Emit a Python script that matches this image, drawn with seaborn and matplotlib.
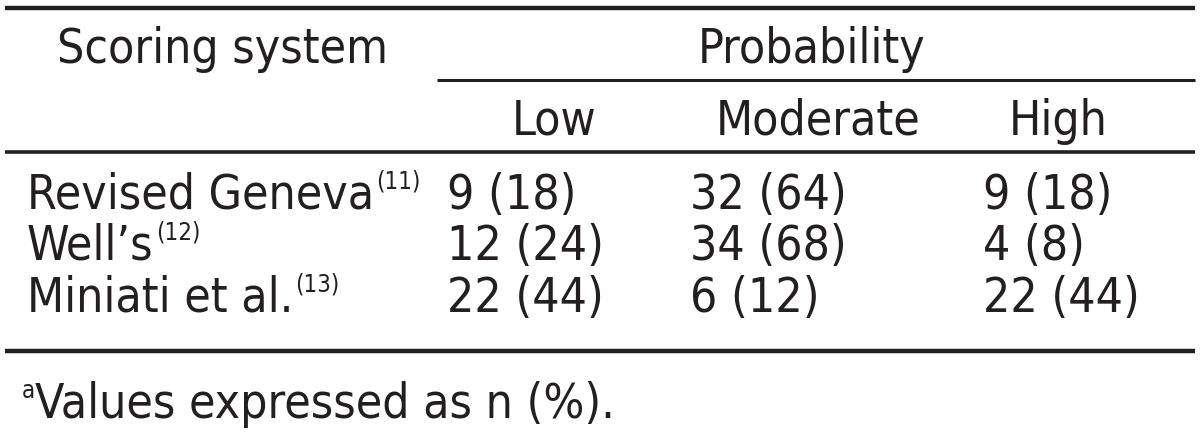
import numpy as np
import matplotlib
matplotlib.use("Agg")
import matplotlib.pyplot as plt
import pandas as pd
import seaborn as sns
from matplotlib import font_manager

systems = ["Revised Geneva", "Well’s", "Miniati et al."]
refs = ["(11)", "(12)", "(13)"]
levels = ["Low", "Moderate", "High"]
low_n = [9, 12, 22]
low_pct = [18, 24, 44]
mod_n = [32, 34, 6]
mod_pct = [64, 68, 12]
high_n = [9, 4, 22]
high_pct = [18, 8, 44]
footnote = "Values expressed as n (%)."


def main():
    sns.set_theme(style="white")
    cond = [f for f in font_manager.fontManager.ttflist
            if f.name == "DejaVu Sans" and f.stretch == "condensed"]
    if cond:
        fam, stretch, fs = "DejaVu Sans", "condensed", 34.5
    else:
        fam, stretch, fs = "Lato", "normal", 37
    plt.rcParams["font.family"] = [fam, "DejaVu Sans"]
    plt.rcParams["font.stretch"] = stretch

    df = pd.DataFrame({"system": systems, "ref": refs,
                       "Low": [f"{n} ({p})" for n, p in zip(low_n, low_pct)],
                       "Moderate": [f"{n} ({p})" for n, p in zip(mod_n, mod_pct)],
                       "High": [f"{n} ({p})" for n, p in zip(high_n, high_pct)]})

    fig = plt.figure(figsize=(12, 4.35), dpi=100)
    ax = fig.add_axes([0, 0, 1, 1])
    ax.set_xlim(0, 1200)
    ax.set_ylim(435, 0)
    ax.axis("off")

    col = "#231f20"
    # rules
    ax.hlines(9, 5, 1195, color=col, lw=3.2)
    ax.hlines(81, 437, 1195, color=col, lw=2.2)
    ax.hlines(153, 5, 1195, color=col, lw=2.6)
    ax.hlines(352, 5, 1195, color=col, lw=3.2)

    ax.text(57, 63, "Scoring system", fontsize=fs, color=col, va="baseline")
    ax.text(812, 63, "Probability", fontsize=fs, color=col, va="baseline", ha="center")

    head_x = [554, 818, 1058]
    for lv, x in zip(levels, head_x):
        ax.text(x, 135, lv, fontsize=fs, color=col, va="baseline", ha="center")

    val_x = [447, 690, 983]
    row_y = [209, 260, 312]
    fig.canvas.draw()
    r = fig.canvas.get_renderer()
    for i, row in df.iterrows():
        y = row_y[i]
        t = ax.text(27, y, row["system"], fontsize=fs, color=col, va="baseline")
        bb = t.get_window_extent(renderer=r)
        xe = ax.transData.inverted().transform((bb.x1, bb.y0))[0]
        ax.text(xe + 2, y - 20, row["ref"], fontsize=fs * 0.5, color=col, va="baseline")
        for lv, x in zip(levels, val_x):
            ax.text(x, y, row[lv], fontsize=fs, color=col, va="baseline")

    ax.text(22, 398, "a", fontsize=fs * 0.5, color=col, va="baseline")
    ax.text(35, 418, footnote, fontsize=fs, color=col, va="baseline")

    fig.savefig("out.png", dpi=100, facecolor="white")


if __name__ == "__main__":
    main()
